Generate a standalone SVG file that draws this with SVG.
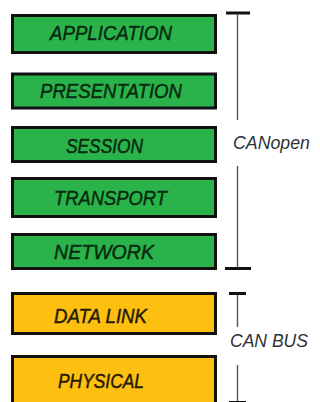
<svg xmlns="http://www.w3.org/2000/svg" width="320" height="402" viewBox="0 0 320 402">
  <style>
    .layer { stroke: #111; stroke-width: 3; }
    .upper { fill: #2bb34b; }
    .lower { fill: #fdc010; }
    .label { font-family: "Liberation Sans", Arial, sans-serif; font-style: italic; font-size: 20.5px; stroke-width: 0.45; }
    .upper-text { fill: #082a0f; stroke: #082a0f; }
    .lower-text { fill: #241a05; stroke: #241a05; }
    .span { fill: none; stroke: #555; stroke-width: 1.4; }
    .tick { stroke: #111; stroke-width: 3; }
    .group-label { font-family: "Liberation Sans", Arial, sans-serif; font-style: italic; font-size: 17.5px; fill: #2e3138; }
  </style>
  <rect width="320" height="402" fill="#ffffff"/>

  <!-- OSI layers -->
  <g id="application">
    <rect class="layer upper" x="12.5" y="15.5" width="203" height="37"/>
    <text class="label upper-text" x="50" y="40" textLength="122" lengthAdjust="spacingAndGlyphs">APPLICATION</text>
  </g>
  <g id="presentation">
    <rect class="layer upper" x="12.5" y="74" width="203" height="34"/>
    <text class="label upper-text" x="40" y="97.5" textLength="142" lengthAdjust="spacingAndGlyphs">PRESENTATION</text>
  </g>
  <g id="session">
    <rect class="layer upper" x="12.5" y="127.5" width="203" height="34"/>
    <text class="label upper-text" x="66" y="152.5" textLength="77" lengthAdjust="spacingAndGlyphs">SESSION</text>
  </g>
  <g id="transport">
    <rect class="layer upper" x="12.5" y="178.5" width="203" height="38"/>
    <text class="label upper-text" x="54" y="205" textLength="113" lengthAdjust="spacingAndGlyphs">TRANSPORT</text>
  </g>
  <g id="network">
    <rect class="layer upper" x="12.5" y="234.5" width="203" height="34"/>
    <text class="label upper-text" x="54" y="259" textLength="100" lengthAdjust="spacingAndGlyphs">NETWORK</text>
  </g>
  <g id="data-link">
    <rect class="layer lower" x="12.5" y="293.5" width="203" height="40"/>
    <text class="label lower-text" x="54" y="323" textLength="93" lengthAdjust="spacingAndGlyphs">DATA LINK</text>
  </g>
  <g id="physical">
    <rect class="layer lower" x="12.5" y="356.5" width="203" height="60"/>
    <text class="label lower-text" x="58" y="388" textLength="86" lengthAdjust="spacingAndGlyphs">PHYSICAL</text>
  </g>

  <!-- Brackets grouping the layers -->
  <g id="connectors">
    <line class="tick" x1="226" y1="13" x2="250" y2="13"/>
    <line class="span" x1="237.5" y1="14" x2="237.5" y2="120"/>
    <line class="span" x1="237.5" y1="166" x2="237.5" y2="268"/>
    <line class="tick" x1="225" y1="268.5" x2="251" y2="268.5"/>

    <line class="tick" x1="229" y1="293.5" x2="246" y2="293.5"/>
    <line class="span" x1="237.5" y1="295" x2="237.5" y2="327"/>
    <line class="span" x1="237.5" y1="365" x2="237.5" y2="402"/>
    <line class="tick" x1="229" y1="402.5" x2="246" y2="402.5"/>
  </g>

  <g id="canopen-label">
    <text class="group-label" x="233" y="149" textLength="77" lengthAdjust="spacingAndGlyphs">CANopen</text>
  </g>
  <g id="canbus-label">
    <text class="group-label" x="230" y="347" textLength="78" lengthAdjust="spacingAndGlyphs">CAN BUS</text>
  </g>
</svg>
